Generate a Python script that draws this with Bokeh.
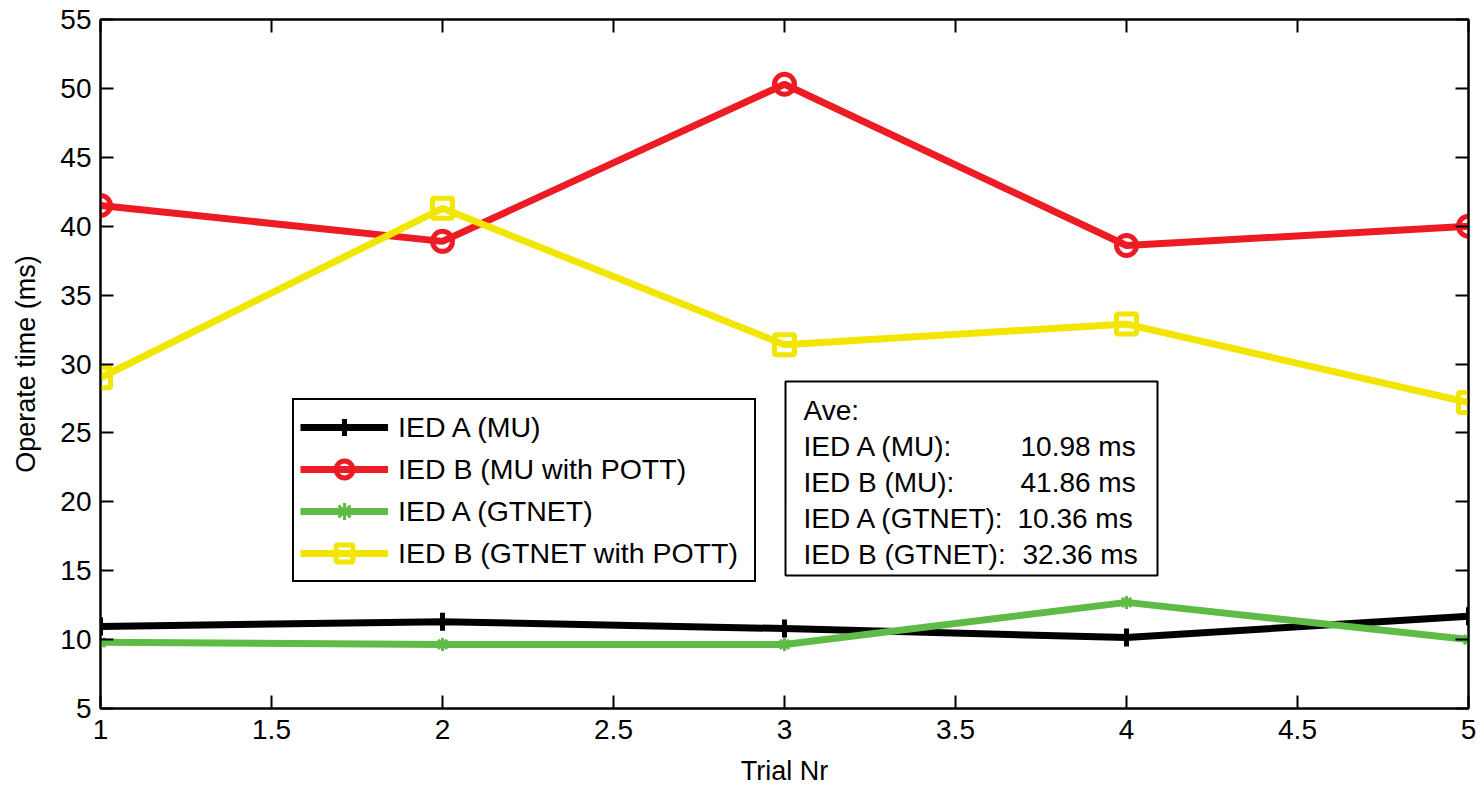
from bokeh.plotting import figure
from bokeh.models import (Range1d, FixedTicker, LinearAxis, Legend, LegendItem,
                          BoxAnnotation, Label)
from bokeh.embed import file_html
from bokeh.resources import INLINE

# ---------------- data ----------------
trials = [1, 2, 3, 4, 5]
ied_a_mu = [10.95, 11.3, 10.8, 10.15, 11.7]
ied_b_mu_pott = [41.5, 38.9, 50.3, 38.6, 40.0]
ied_a_gtnet = [9.8, 9.65, 9.65, 12.7, 10.0]
ied_b_gtnet_pott = [29.0, 41.3, 31.4, 32.9, 27.2]

series_names = ["IED A (MU)", "IED B (MU with POTT)", "IED A (GTNET)", "IED B (GTNET with POTT)"]

x_ticks = [1, 1.5, 2, 2.5, 3, 3.5, 4, 4.5, 5]
x_tick_labels = ["1", "1.5", "2", "2.5", "3", "3.5", "4", "4.5", "5"]
y_ticks = [5, 10, 15, 20, 25, 30, 35, 40, 45, 50, 55]

ave_title = "Ave:"
ave_labels = ["IED A (MU):", "IED B (MU):", "IED A (GTNET):", "IED B (GTNET):"]
ave_values = ["10.98 ms", "41.86 ms", "10.36 ms", "32.36 ms"]

FONT = "Liberation Sans"
RED = "#ED1C24"
YELLOW = "#F2E600"
GREEN = "#5DBB46"
TXT = "28px"

p = figure(width=1478, height=788, output_backend="svg", toolbar_location=None,
           x_range=Range1d(1, 5), y_range=Range1d(5, 55),
           min_border_left=100, min_border_right=10, min_border_top=19, min_border_bottom=78)
p.grid.visible = False
p.outline_line_color = "black"
p.outline_line_width = 2
p.outline_line_alpha = 1
p.background_fill_color = "white"
p.border_fill_color = "white"

# main axes
for ax in (p.xaxis[0], p.yaxis[0]):
    ax.axis_line_width = 2
    ax.axis_line_color = "black"
    ax.major_tick_in = 13
    ax.major_tick_out = 0
    ax.major_tick_line_width = 2
    ax.minor_tick_line_color = None
    ax.major_label_text_font = FONT
    ax.major_label_text_font_size = TXT
    ax.major_label_text_color = "black"
    ax.axis_label_text_font = FONT
    ax.axis_label_text_font_size = "27px"
    ax.axis_label_text_font_style = "normal"
    ax.axis_label_text_color = "black"

p.xaxis[0].ticker = FixedTicker(ticks=x_ticks)
p.xaxis[0].major_label_overrides = {t: l for t, l in zip(x_ticks, x_tick_labels)}
p.xaxis[0].axis_label = "Trial Nr"
p.xaxis[0].major_label_standoff = 11
p.xaxis[0].axis_label_standoff = 14
p.yaxis[0].ticker = FixedTicker(ticks=y_ticks)
p.yaxis[0].axis_label = "Operate time (ms)"
p.yaxis[0].major_label_standoff = 9
p.yaxis[0].axis_label_standoff = 16

# mirrored top/right axes (ticks only)
top_ax = LinearAxis(ticker=FixedTicker(ticks=x_ticks))
right_ax = LinearAxis(ticker=FixedTicker(ticks=y_ticks))
top_ax.major_label_overrides = {t: "" for t in x_ticks}
right_ax.major_label_overrides = {t: "" for t in y_ticks}
for ax in (top_ax, right_ax):
    ax.axis_line_width = 2
    ax.major_tick_in = 13
    ax.major_tick_out = 0
    ax.major_tick_line_width = 2
    ax.minor_tick_line_color = None
    ax.major_label_text_color = None
    ax.major_label_standoff = 0
p.add_layout(top_ax, "above")
p.add_layout(right_ax, "right")

LW = 7
r1l = p.line(trials, ied_a_mu, line_color="black", line_width=LW)
r1m = p.scatter(trials, ied_a_mu, marker="cross", size=18, line_color="black", line_width=5)
r2l = p.line(trials, ied_b_mu_pott, line_color=RED, line_width=LW)
r2m = p.scatter(trials, ied_b_mu_pott, marker="circle", size=20, line_color=RED,
                fill_color=None, line_width=5)
r3l = p.line(trials, ied_a_gtnet, line_color=GREEN, line_width=LW)
r3m = p.scatter(trials, ied_a_gtnet, marker="asterisk", size=13, line_color=GREEN, line_width=3)
r4l = p.line(trials, ied_b_gtnet_pott, line_color=YELLOW, line_width=LW)
r4m = p.scatter(trials, ied_b_gtnet_pott, marker="square", size=20, line_color=YELLOW,
                fill_color=None, line_width=5)

legend = Legend(items=[
    LegendItem(label=series_names[0], renderers=[r1l, r1m]),
    LegendItem(label=series_names[1], renderers=[r2l, r2m]),
    LegendItem(label=series_names[2], renderers=[r3l, r3m]),
    LegendItem(label=series_names[3], renderers=[r4l, r4m]),
], location=(192, 126))
legend.label_text_font = FONT
legend.label_text_font_size = "28.5px"
legend.label_text_color = "black"
legend.glyph_width = 88
legend.glyph_height = 42
legend.label_height = 30
legend.label_width = 350
legend.spacing = 0
legend.label_standoff = 10
legend.padding = 6
legend.margin = 0
legend.border_line_color = "black"
legend.border_line_width = 2
legend.border_line_alpha = 1
legend.background_fill_color = "white"
legend.background_fill_alpha = 1
p.add_layout(legend)

# averages box (screen units relative to the frame)
box = BoxAnnotation(left=685, right=1057, bottom=133, top=327,
                    left_units="screen", right_units="screen",
                    bottom_units="screen", top_units="screen",
                    fill_color="white", fill_alpha=1,
                    line_color="black", line_width=2, line_alpha=1)
p.add_layout(box)

row_y = [262, 226, 190, 154]
val_x = [920, 920, 917, 922]
p.add_layout(Label(x=703, y=298, x_units="screen", y_units="screen", text=ave_title,
                   text_font=FONT, text_font_size=TXT, text_baseline="middle",
                   text_color="black"))
for lab, val, yy, vx in zip(ave_labels, ave_values, row_y, val_x):
    p.add_layout(Label(x=703, y=yy, x_units="screen", y_units="screen", text=lab,
                       text_font=FONT, text_font_size=TXT, text_baseline="middle",
                       text_color="black"))
    p.add_layout(Label(x=vx, y=yy, x_units="screen", y_units="screen", text=val,
                       text_font=FONT, text_font_size=TXT, text_baseline="middle",
                       text_color="black"))

open("out.html", "w").write(file_html(p, INLINE))
